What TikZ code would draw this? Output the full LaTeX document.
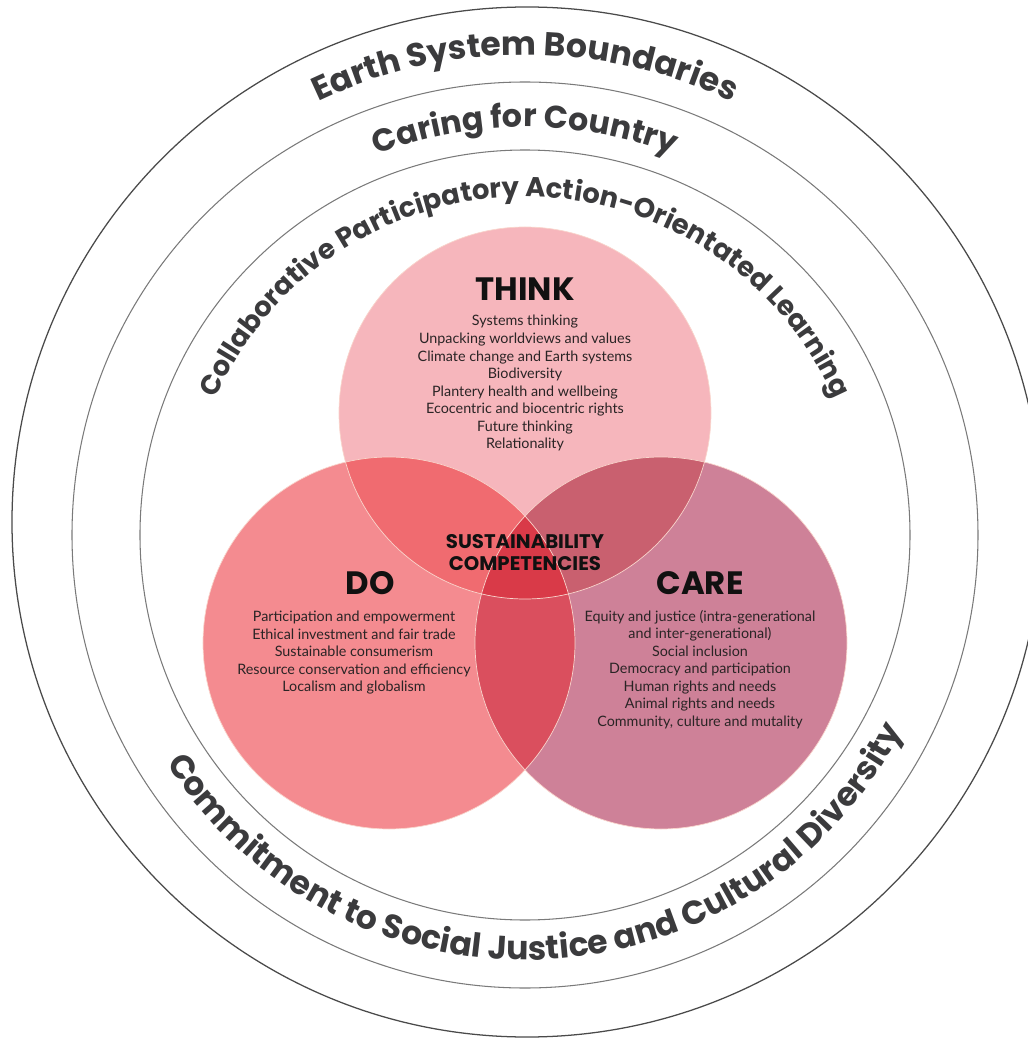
\documentclass[tikz,border=0pt]{standalone}
\usepackage{fontspec}
\setsansfont{Poppins}
\newfontfamily\bodyfont{Lato}
\usetikzlibrary{decorations.text}
\definecolor{thinkFill}{HTML}{F6B6BC}
\definecolor{doFill}{HTML}{F48B90}
\definecolor{careFill}{HTML}{CE8198}
\definecolor{tdFill}{HTML}{F06B70}
\definecolor{tcFill}{HTML}{C9606F}
\definecolor{dcFill}{HTML}{DA4F5E}
\definecolor{allFill}{HTML}{D93A48}
\definecolor{rimLine}{HTML}{F9D5CC}
\definecolor{ringLine}{HTML}{7A7A7A}
\definecolor{outerLine}{HTML}{4A4A4A}
\definecolor{ringInk}{HTML}{3B3B3D}
\definecolor{headInk}{HTML}{111111}
\definecolor{bodyInk}{HTML}{2A2425}

\newcommand{\vennR}{4.65}
\newcommand{\ringfont}{\sffamily\bfseries\fontsize{23.5}{23.5}\selectfont}
\newcommand{\countryfont}{\sffamily\bfseries\fontsize{22.5}{22.5}\selectfont}
\newcommand{\learnfont}{\sffamily\bfseries\fontsize{19.5}{19.5}\selectfont}

\begin{document}
\begin{tikzpicture}[
  heading/.style={font=\sffamily\bfseries\fontsize{23}{23}\selectfont, text=headInk},
  body/.style={font=\bodyfont\fontsize{10.2}{12.5}\selectfont, align=center, text=bodyInk, inner sep=0pt},
  core/.style={font=\sffamily\bfseries\fontsize{14}{15.6}\selectfont, align=center, text=headInk},
  ring/.style={draw=ringLine, line width=0.75pt},
  outerring/.style={draw=outerLine, line width=0.9pt},
  rim/.style={draw=rimLine, line width=0.5pt},
  ringtext/.style={decorate, decoration={text along path, text align=center, text color=ringInk}}
]

\useasboundingbox (-13.125,-12.575) rectangle (12.575,13.375);

% =========================================================
% RINGS
% =========================================================

\draw[outerring] (0.05,0.325) circle (12.875);
\draw[ring] (0,0) circle (11.325);
\draw[ring] (0,0) circle (9.625);

% ring labels
\path[ringtext, decoration={text={|\ringfont|Earth System Boundaries}}]
  (180:12.0) arc[start angle=180, end angle=0, radius=12.0];
\path[ringtext, decoration={text={|\countryfont|Caring for Country}}]
  (180:10.2) arc[start angle=180, end angle=0, radius=10.2];
\path[ringtext, decoration={text={|\learnfont|Collaborative Participatory Action-Orientated Learning}}]
  (180:8.45) arc[start angle=180, end angle=0, radius=8.45];
\path[ringtext, decoration={text={|\ringfont|Commitment to Social Justice and Cultural Diversity}}]
  (182.5:10.625) arc[start angle=182.5, end angle=362.5, radius=10.625];

% =========================================================
% VENN
% =========================================================

\coordinate (thinkC) at (0,3.05);
\coordinate (doC) at (-3.4,-2.7);
\coordinate (careC) at (3.4,-2.7);

\fill[thinkFill] (thinkC) circle (\vennR);
\fill[doFill] (doC) circle (\vennR);
\fill[careFill] (careC) circle (\vennR);

% do + care
\begin{scope}
  \clip (doC) circle (\vennR);
  \fill[dcFill] (careC) circle (\vennR);
\end{scope}

% think + others, then all three
\begin{scope}
  \clip (thinkC) circle (\vennR);
  \fill[tdFill] (doC) circle (\vennR);
  \fill[tcFill] (careC) circle (\vennR);
  \clip (doC) circle (\vennR);
  \fill[allFill] (careC) circle (\vennR);
\end{scope}

\draw[rim] (thinkC) circle (\vennR);
\draw[rim] (doC) circle (\vennR);
\draw[rim] (careC) circle (\vennR);

% =========================================================
% LABELS
% =========================================================

\node[heading] (thinkHead) at (0,6.15) {THINK};
\node[body] (thinkBody) at (0,3.79)
{Systems thinking\\Unpacking worldviews and values\\Climate change and Earth systems\\Biodiversity\\Plantery health and wellbeing\\Ecocentric and biocentric rights\\Future thinking\\Relationality};

\node[heading] (doHead) at (-3.875,-1.2) {DO};
\node[body] (doBody) at (-4.275,-2.94)
{Participation and empowerment\\Ethical investment and fair trade\\Sustainable consumerism\\Resource conservation and efficiency\\Localism and globalism};

\node[heading] (careHead) at (4.375,-1.2) {CARE};
\node[body] (careBody) at (4.375,-3.36)
{Equity and justice (intra-generational\\and inter-generational)\\Social inclusion\\Democracy and participation\\Human rights and needs\\Animal rights and needs\\Community, culture and mutality};

\node[core] (coreLabel) at (0,-0.45) {SUSTAINABILITY\\COMPETENCIES};

\end{tikzpicture}
\end{document}
